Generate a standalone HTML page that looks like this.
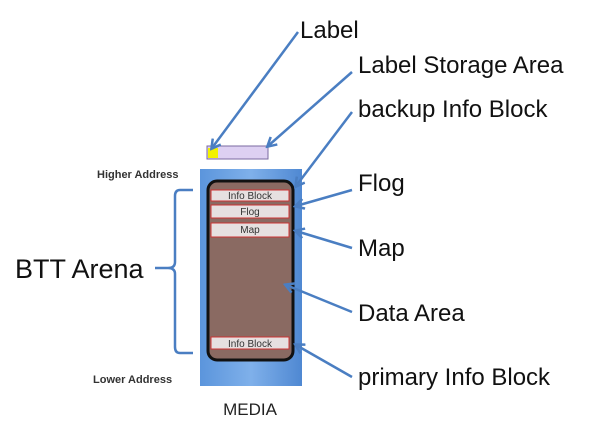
<!DOCTYPE html>
<html><head><style>
html,body{margin:0;padding:0;background:#fff;}
svg{display:block;}
text{font-family:"Liberation Sans",sans-serif;}
</style></head><body>
<svg width="609" height="431" viewBox="0 0 609 431" xmlns="http://www.w3.org/2000/svg">
<defs>
<marker id="a" markerWidth="12" markerHeight="12" refX="9" refY="6" orient="auto" markerUnits="userSpaceOnUse">
<path d="M1,1 L10,6 L1,11" fill="none" stroke="#4a7ec2" stroke-width="2.5"/>
</marker>
<linearGradient id="g" x1="0" x2="1"><stop offset="0" stop-color="#5b95dc"/><stop offset="0.5" stop-color="#7fb0ea"/><stop offset="1" stop-color="#4f88d2"/></linearGradient>
</defs>
<rect x="200" y="169" width="102" height="217" fill="url(#g)"/>
<rect x="208" y="181" width="85" height="179" rx="9" fill="#8a6a62" stroke="#111" stroke-width="3"/>
<g font-size="10" text-anchor="middle" fill="#333">
<rect x="211" y="190" width="78" height="11" fill="#e6e0e0" stroke="#c33" stroke-width="1"/>
<text x="250" y="199">Info Block</text>
<rect x="211" y="205" width="78" height="13" fill="#e6e0e0" stroke="#c33" stroke-width="1"/>
<text x="250" y="215">Flog</text>
<rect x="211" y="223" width="78" height="14" fill="#e6e0e0" stroke="#c33" stroke-width="1"/>
<text x="250" y="233">Map</text>
<rect x="211" y="337" width="78" height="12" fill="#e6e0e0" stroke="#c33" stroke-width="1"/>
<text x="250" y="347">Info Block</text>
</g>
<rect x="207" y="146" width="61" height="13" fill="#ddd0f2" stroke="#7a6aa0" stroke-width="1"/>
<rect x="208" y="148" width="10" height="10" fill="#f2f200"/>
<text x="250" y="415" font-size="17" text-anchor="middle" fill="#222">MEDIA</text>
<g stroke="#4a7ec2" stroke-width="2.5" fill="none" marker-end="url(#a)">
<line x1="298" y1="32" x2="212" y2="148"/>
<line x1="352" y1="72" x2="268" y2="146"/>
<line x1="352" y1="112" x2="296" y2="186"/>
<line x1="352" y1="190" x2="296" y2="206"/>
<line x1="352" y1="248" x2="296" y2="231"/>
<line x1="352" y1="312" x2="286" y2="285"/>
<line x1="352" y1="377" x2="296" y2="345"/>
</g>
<path d="M193,190 L180,190 Q175,190 175,196 L175,262 Q175,268 168,268 L155,268 M168,268 Q175,268 175,274 L175,347 Q175,353 180,353 L193,353" stroke="#4a7ec2" stroke-width="2.5" fill="none"/>
<g fill="#111">
<text x="300" y="38" font-size="24">Label</text>
<text x="358" y="73" font-size="24">Label Storage Area</text>
<text x="358" y="117" font-size="24">backup Info Block</text>
<text x="358" y="191" font-size="24">Flog</text>
<text x="358" y="256" font-size="24">Map</text>
<text x="358" y="321" font-size="24">Data Area</text>
<text x="358" y="385" font-size="24">primary Info Block</text>
<text x="15" y="278" font-size="27">BTT Arena</text>
<text x="97" y="178" font-size="11" font-weight="bold" fill="#333">Higher Address</text>
<text x="93" y="383" font-size="11" font-weight="bold" fill="#333">Lower Address</text>
</g>
</svg>
</body></html>
